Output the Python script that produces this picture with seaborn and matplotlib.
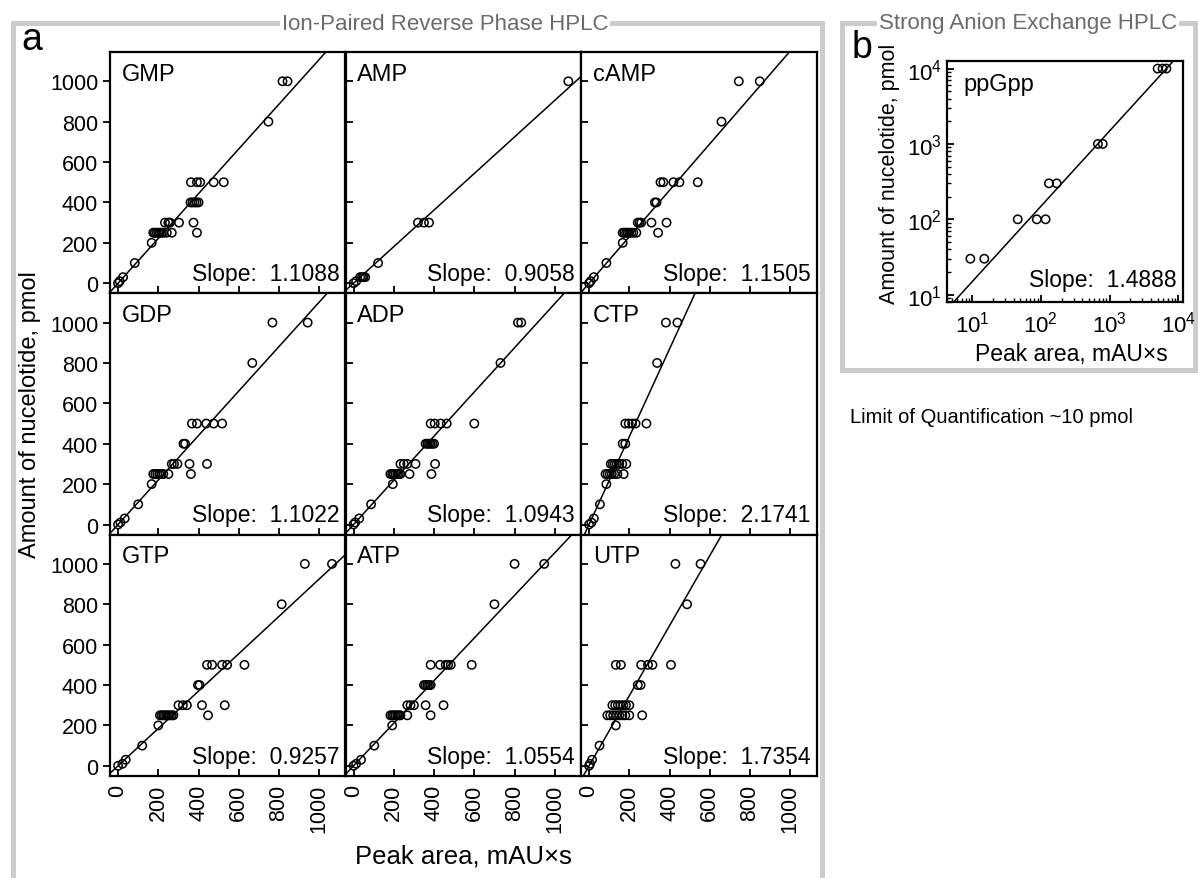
import numpy as np
import pandas as pd
import matplotlib
matplotlib.use("Agg")
import matplotlib.pyplot as plt
from matplotlib.patches import Rectangle
from matplotlib.ticker import LogLocator, NullFormatter
import seaborn as sns

W, H = 1198, 879

# ─── Data ─────────────────────────────────────────────────────────────────────

compounds = ["GMP", "AMP", "cAMP", "GDP", "ADP", "CTP", "GTP", "ATP", "UTP"]
slopes = [1.1088, 0.9058, 1.1505, 1.1022, 1.0943, 2.1741, 0.9257, 1.0554, 1.7354]

gmp_area = [0, 8, 25, 83, 167,
            175, 183, 192, 200, 208, 217, 225, 242, 267, 392,
            233, 250, 258, 303, 375,
            360, 370, 380, 390, 400,
            362, 392, 408, 475, 525,
            747, 817, 842]
gmp_amount = [0, 10, 30, 100, 200,
              250, 250, 250, 250, 250, 250, 250, 250, 250, 250,
              300, 300, 300, 300, 300,
              400, 400, 400, 400, 400,
              500, 500, 500, 500, 500,
              800, 1000, 1000]

amp_area = [0, 13, 33, 42, 50, 58, 122, 320, 350, 375, 1067]
amp_amount = [0, 10, 30, 30, 30, 30, 100, 300, 300, 300, 1000]

camp_area = [0, 8, 24, 86, 167,
             167, 175, 184, 192, 200, 210, 220, 235, 343,
             242, 251, 259, 310, 385,
             327, 335,
             355, 369, 419, 449, 540,
             658, 744, 848]
camp_amount = [0, 10, 30, 100, 200,
               250, 250, 250, 250, 250, 250, 250, 250, 250,
               300, 300, 300, 300, 300,
               400, 400,
               500, 500, 500, 500, 500,
               800, 1000, 1000]

gdp_area = [0, 12, 33, 100, 167,
            175, 185, 195, 205, 215, 225, 250, 362,
            267, 278, 295, 355, 442,
            325, 333,
            367, 392, 438, 475, 517,
            667, 767, 942]
gdp_amount = [0, 10, 30, 100, 200,
              250, 250, 250, 250, 250, 250, 250, 250,
              300, 300, 300, 300, 300,
              400, 400,
              500, 500, 500, 500, 500,
              800, 1000, 1000]

adp_area = [0, 8, 28, 87, 195,
            183, 192, 200, 208, 217, 225, 233, 278, 387,
            233, 250, 267, 308, 405,
            358, 367, 375, 383, 392, 400,
            383, 403, 433, 463, 600,
            730, 817, 833]
adp_amount = [0, 10, 30, 100, 200,
              250, 250, 250, 250, 250, 250, 250, 250, 250,
              300, 300, 300, 300, 300,
              400, 400, 400, 400, 400, 400,
              500, 500, 500, 500, 500,
              800, 1000, 1000]

ctp_area = [0, 12, 24, 54, 86,
            82, 92, 103, 113, 125, 141, 172,
            108, 118, 128, 138, 150, 165, 185,
            167, 180,
            180, 197, 214, 231, 285,
            338, 382, 439]
ctp_amount = [0, 10, 30, 100, 200,
              250, 250, 250, 250, 250, 250, 250,
              300, 300, 300, 300, 300, 300, 300,
              400, 400,
              500, 500, 500, 500, 500,
              800, 1000, 1000]

gtp_area = [0, 22, 38, 120, 200,
            208, 217, 225, 233, 242, 250, 258, 267, 275, 447,
            300, 322, 342, 417, 530,
            397, 405,
            442, 467, 517, 542, 628,
            813, 928, 1063]
gtp_amount = [0, 10, 30, 100, 200,
              250, 250, 250, 250, 250, 250, 250, 250, 250, 250,
              300, 300, 300, 300, 300,
              400, 400,
              500, 500, 500, 500, 500,
              800, 1000, 1000]

atp_area = [0, 13, 37, 103, 192,
            183, 192, 200, 208, 217, 225, 233, 267, 383,
            267, 283, 300, 358, 447,
            350, 358, 367, 375, 383,
            383, 430, 458, 470, 483, 587,
            700, 800, 947]
atp_amount = [0, 10, 30, 100, 200,
              250, 250, 250, 250, 250, 250, 250, 250, 250,
              300, 300, 300, 300, 300,
              400, 400, 400, 400, 400,
              500, 500, 500, 500, 500, 500,
              800, 1000, 1000]

utp_area = [0, 5, 15, 52, 133,
            91, 105, 120, 135, 150, 165, 180, 200, 264,
            116, 130, 143, 156, 170, 183, 200,
            242, 256,
            133, 158, 259, 293, 315, 407,
            487, 429, 554]
utp_amount = [0, 10, 30, 100, 200,
              250, 250, 250, 250, 250, 250, 250, 250, 250,
              300, 300, 300, 300, 300, 300, 300,
              400, 400,
              500, 500, 500, 500, 500, 500,
              800, 1000, 1000]

ppgpp_area = [9.4, 15, 46, 87, 117, 131, 170, 676, 795, 5000, 5900, 6700]
ppgpp_amount = [30, 30, 100, 100, 100, 300, 300, 1000, 1000, 10000, 10000, 10000]
ppgpp_slope = 1.4888

areas = [gmp_area, amp_area, camp_area, gdp_area, adp_area, ctp_area,
         gtp_area, atp_area, utp_area]
amounts = [gmp_amount, amp_amount, camp_amount, gdp_amount, adp_amount,
           ctp_amount, gtp_amount, atp_amount, utp_amount]

df = pd.concat(
    [pd.DataFrame({"compound": n, "area": a, "amount": m})
     for n, a, m in zip(compounds, areas, amounts)],
    ignore_index=True,
)
df_b = pd.DataFrame({"area": ppgpp_area, "amount": ppgpp_amount})

# ─── Style ────────────────────────────────────────────────────────────────────

sns.set_style("ticks")
plt.rcParams["font.family"] = ["Liberation Sans", "DejaVu Sans"]
plt.rcParams["axes.linewidth"] = 1.6
plt.rcParams["axes.edgecolor"] = "black"
plt.rcParams["xtick.color"] = "black"
plt.rcParams["ytick.color"] = "black"
plt.rcParams["text.color"] = "black"

FRAME = "#cccccc"
TITLE = "#6b6b6b"


def box(x, y, w, h):
    """Pixel box (top-left origin) -> figure fraction rect."""
    return [x / W, 1 - (y + h) / H, w / W, h / H]


def fig_xy(x, y):
    return x / W, 1 - y / H


def scatter(data, ax):
    sns.scatterplot(data=data, x="area", y="amount", ax=ax, marker="o", s=36,
                    facecolor="none", edgecolor="black", linewidth=1.1,
                    zorder=3, legend=False)


fig = plt.figure(figsize=(W / 100, H / 100), dpi=100)

# ─── Panel a ──────────────────────────────────────────────────────────────────

col_w, row_h = 235.5, 241.3
for i, name in enumerate(compounds):
    r, c = divmod(i, 3)
    ax = fig.add_axes(box(110 + c * col_w, 53 + r * row_h, col_w, row_h))
    scatter(df[df["compound"] == name], ax)
    ax.axline((0, 0), slope=slopes[i], color="black", lw=1.1, zorder=2)
    ax.set_xlim(-40, 1130)
    ax.set_ylim(-50, 1145)
    ax.set_xticks(range(0, 1001, 200))
    ax.set_yticks(range(0, 1001, 200))
    ax.set_xlabel("")
    ax.set_ylabel("")
    ax.tick_params(axis="x", direction="in", length=5, width=1.3,
                   labelsize=15.5, pad=6)
    ax.tick_params(axis="y", direction="out" if c == 0 else "in", length=5,
                   width=1.3, labelsize=15.5)
    if c != 0:
        ax.tick_params(axis="y", labelleft=False)
    if r != 2:
        ax.tick_params(axis="x", labelbottom=False)
    else:
        ax.tick_params(axis="x", labelrotation=90)
    ax.text(0.05, 0.955, name, transform=ax.transAxes, ha="left", va="top",
            fontsize=17)
    ax.text(0.975, 0.055, f"Slope:  {slopes[i]:.4f}", transform=ax.transAxes,
            ha="right", va="baseline", fontsize=16.5)

fig.text(*fig_xy(30, 415), "Amount of nucelotide, pmol", rotation=90,
         ha="center", va="center", fontsize=17)
fig.text(*fig_xy(463, 857), "Peak area, mAU×s", ha="center", va="center",
         fontsize=18.5)
fig.text(*fig_xy(21, 40), "a", ha="left", va="center", fontsize=27)

# ─── Panel b ──────────────────────────────────────────────────────────────────

axb = fig.add_axes(box(947, 62, 236, 241))
scatter(df_b, axb)
axb.set_xscale("log")
axb.set_yscale("log")
axb.axline((1, ppgpp_slope), (10, 10 * ppgpp_slope), color="black", lw=1.1,
           zorder=2)
for axis in (axb.xaxis, axb.yaxis):
    axis.set_major_locator(LogLocator(base=10, numticks=10))
    axis.set_minor_locator(LogLocator(base=10, subs=np.arange(2, 10), numticks=20))
    axis.set_minor_formatter(NullFormatter())
axb.set_xticks([10, 100, 1000, 10000])
axb.set_yticks([10, 100, 1000, 10000])
axb.set_xlim(4.3, 11700)
axb.set_ylim(8, 12600)
axb.set_xlabel("")
axb.set_ylabel("")
axb.tick_params(which="major", direction="in", length=5, width=1.3,
                labelsize=16)
axb.tick_params(axis="x", which="major", pad=6)
axb.tick_params(which="minor", direction="in", length=3, width=1.0)
axb.text(0.068, 0.95, "ppGpp", transform=axb.transAxes, ha="left", va="top",
         fontsize=17)
axb.text(0.975, 0.066, f"Slope:  {ppgpp_slope:.4f}", transform=axb.transAxes,
         ha="right", va="baseline", fontsize=16.5)
fig.text(*fig_xy(890, 174), "Amount of nucelotide, pmol", rotation=90,
         ha="center", va="center", fontsize=15.5)
fig.text(*fig_xy(1071, 354), "Peak area, mAU×s", ha="center", va="center",
         fontsize=16.5)
fig.text(*fig_xy(852, 48), "b", ha="left", va="center", fontsize=27)

fig.text(*fig_xy(850, 418), "Limit of Quantification ~10 pmol", ha="left",
         va="center", fontsize=14.5)

# ─── Gray group frames ────────────────────────────────────────────────────────

fig.add_artist(Rectangle((13 / W, -0.05), (822 - 13) / W, 1 - 24 / H + 0.05,
                         fill=False, ec=FRAME, lw=3.6,
                         transform=fig.transFigure, zorder=0))
fig.add_artist(Rectangle((842 / W, 1 - 371 / H), (1195 - 842) / W,
                         (371 - 24) / H, fill=False, ec=FRAME, lw=3.6,
                         transform=fig.transFigure, zorder=0))
fig.text(*fig_xy(445, 24), "Ion-Paired Reverse Phase HPLC", ha="center",
         va="center", color=TITLE, fontsize=16,
         bbox=dict(fc="white", ec="none", pad=1.5))
fig.text(*fig_xy(1028, 24), "Strong Anion Exchange HPLC", ha="center",
         va="center", color=TITLE, fontsize=16,
         bbox=dict(fc="white", ec="none", pad=1.5))

fig.savefig("out.png", dpi=100)
